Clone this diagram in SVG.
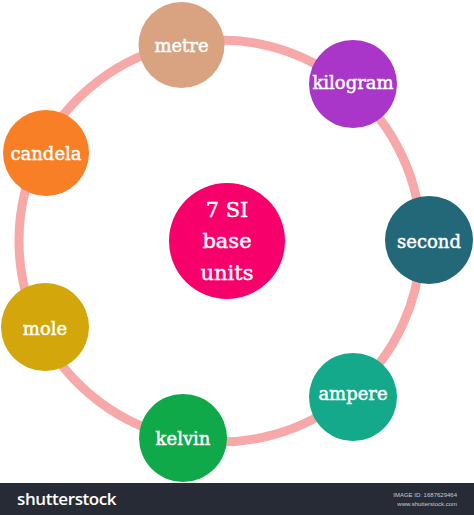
<svg xmlns="http://www.w3.org/2000/svg" width="474" height="515" viewBox="0 0 474 515">
<style>
.ring{fill:none;stroke:#f7a8a8;stroke-width:9}
.lbl{font-family:"DejaVu Serif","Liberation Serif",serif;font-size:18px;fill:#ffffff;stroke:#ffffff;stroke-width:0.45;text-anchor:middle}
.big{font-size:21px}
.bar{fill:#262b36}
.logo{font-family:"Open Sans","Liberation Sans",sans-serif;font-weight:600;font-size:17px;letter-spacing:-0.4px;fill:#ffffff}
.small{font-family:"Liberation Sans",sans-serif;font-size:6px;fill:#c9ccd2;text-anchor:end}
</style>
<rect width="474" height="515" fill="#ffffff"/>
<g id="connectors">
<path class="ring" d="M180.6,43.9 A201,201 0 0 1 350,87.6"/>
<path class="ring" d="M350,87.6 A201,201 0 0 1 421,240"/>
<path class="ring" d="M421,240 A201,201 0 0 1 350.5,393.8"/>
<path class="ring" d="M350.5,393.8 A201,201 0 0 1 183,438.6"/>
<path class="ring" d="M183,438.6 A201,201 0 0 1 39.7,329.7"/>
<path class="ring" d="M39.7,329.7 A201,201 0 0 1 40.5,150.4"/>
<path class="ring" d="M40.5,150.4 A201,201 0 0 1 180.6,43.9"/>
</g>
<g id="center">
<circle cx="227" cy="241" r="58" fill="#f7006b"/>
<text class="lbl big" x="227" y="217">7 SI</text>
<text class="lbl big" x="227" y="248">base</text>
<text class="lbl big" x="227" y="280">units</text>
</g>
<g id="metre">
<circle cx="181.5" cy="45" r="43" fill="#d9a382"/>
<text class="lbl" x="181.5" y="52">metre</text>
</g>
<g id="kilogram">
<circle cx="353" cy="84" r="44" fill="#aa35c9"/>
<text class="lbl" x="353" y="89">kilogram</text>
</g>
<g id="second">
<circle cx="429" cy="240" r="44" fill="#236879"/>
<text class="lbl" x="429" y="248">second</text>
</g>
<g id="ampere">
<circle cx="353" cy="397" r="44" fill="#13a98a"/>
<text class="lbl" x="353" y="400">ampere</text>
</g>
<g id="kelvin">
<circle cx="183" cy="438" r="44" fill="#10a94a"/>
<text class="lbl" x="183" y="445">kelvin</text>
</g>
<g id="mole">
<circle cx="45" cy="327" r="44" fill="#d3a60b"/>
<text class="lbl" x="45" y="335">mole</text>
</g>
<g id="candela">
<circle cx="46" cy="153" r="43" fill="#f97f27"/>
<text class="lbl" x="46" y="160">candela</text>
</g>
<g id="footer">
<rect class="bar" x="0" y="483" width="474" height="32"/>
<text class="logo" x="17" y="505">shutterstock</text>
<text class="small" x="457" y="497">IMAGE ID: 1687629464</text>
<text class="small" x="457" y="506">www.shutterstock.com</text>
</g>
</svg>
